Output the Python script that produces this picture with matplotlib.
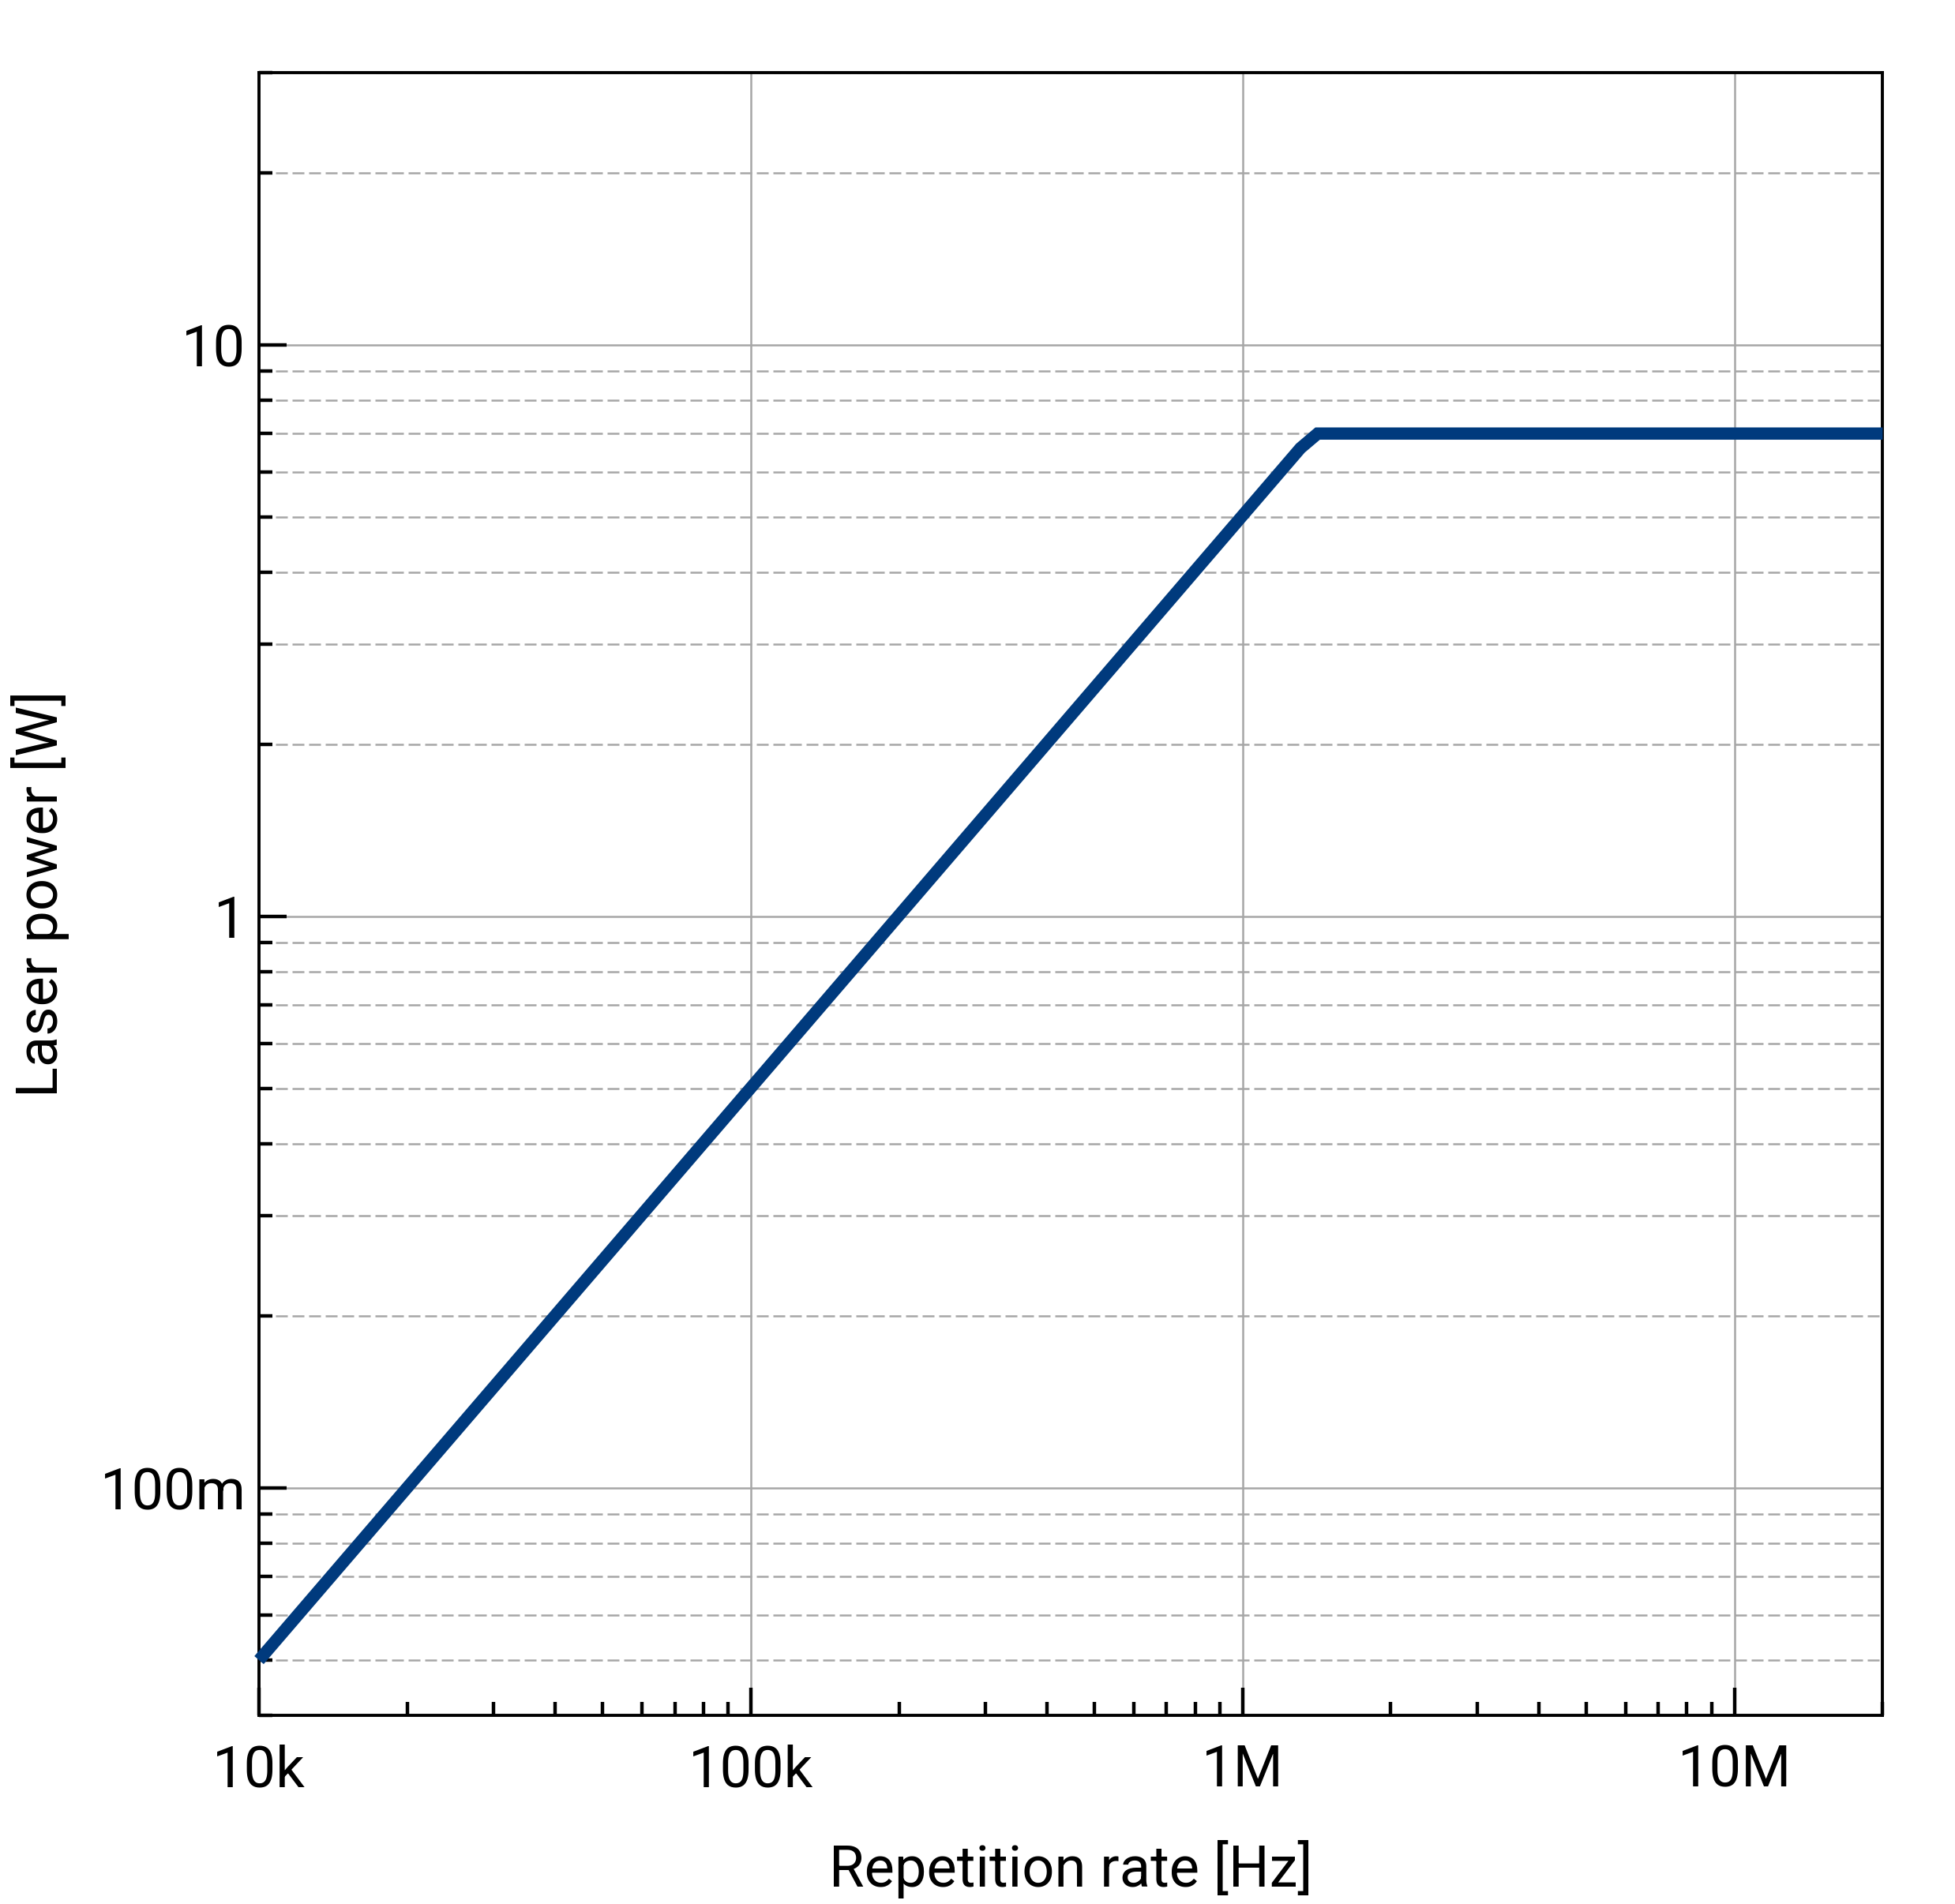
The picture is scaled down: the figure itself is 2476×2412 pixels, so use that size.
import matplotlib
matplotlib.use("Agg")
import matplotlib.pyplot as plt
from matplotlib.ticker import FixedLocator, LogLocator, NullFormatter

plt.rcParams["font.family"] = ["Roboto", "DejaVu Sans"]

# ── data ──────────────────────────────────────────────────────────────────────
rep_rate_hz = [1e4, 1.31e6, 1.42e6, 2e7]
power_w = [0.05, 6.6, 7.0, 7.0]

x_ticks = [1e4, 1e5, 1e6, 1e7]
x_labels = ["10k", "100k", "1M", "10M"]
y_ticks = [0.1, 1, 10]
y_labels = ["100m", "1", "10"]

LINE = "#003a7d"
GRID = "#a6a6a6"

fig = plt.figure(figsize=(12.38, 12.06), dpi=200)
ax = fig.add_axes([0.1325, 0.099, 0.8305, 0.863])

ax.plot(rep_rate_hz, power_w, color=LINE, lw=5.6, solid_joinstyle="miter",
        solid_capstyle="butt", clip_on=False, zorder=3)

ax.set_xscale("log")
ax.set_yscale("log")
ax.set_xlim(1e4, 2e7)
ax.set_ylim(0.04, 30)

ax.xaxis.set_major_locator(FixedLocator(x_ticks))
ax.set_xticklabels(x_labels)
ax.xaxis.set_minor_locator(LogLocator(base=10, subs=range(2, 10), numticks=20))
ax.xaxis.set_minor_formatter(NullFormatter())
ax.yaxis.set_major_locator(FixedLocator(y_ticks))
ax.set_yticklabels(y_labels)
ax.yaxis.set_minor_locator(LogLocator(base=10, subs=range(2, 10), numticks=20))
ax.yaxis.set_minor_formatter(NullFormatter())

# grid: solid majors both ways, dashed minors on y only
ax.grid(which="major", axis="both", color=GRID, lw=0.9, ls="-", zorder=0)
ax.grid(which="minor", axis="y", color=GRID, lw=0.9, ls=(0, (6, 2.4)), zorder=0)
ax.set_axisbelow(True)

ax.tick_params(which="both", direction="in", width=1.6, color="black",
               top=False, right=False, labelsize=26)
ax.tick_params(which="major", length=12.5)
ax.tick_params(which="minor", length=6)
ax.tick_params(axis="x", which="major", pad=13)
ax.tick_params(axis="y", which="major", pad=6)

for sp in ax.spines.values():
    sp.set_linewidth(1.4)
    sp.set_color("black")

ax.set_xlabel("Repetition rate [Hz]", fontsize=26, labelpad=19)
ax.set_ylabel("Laser power [W]", fontsize=26, labelpad=14)

fig.savefig("out.png", dpi=200)
